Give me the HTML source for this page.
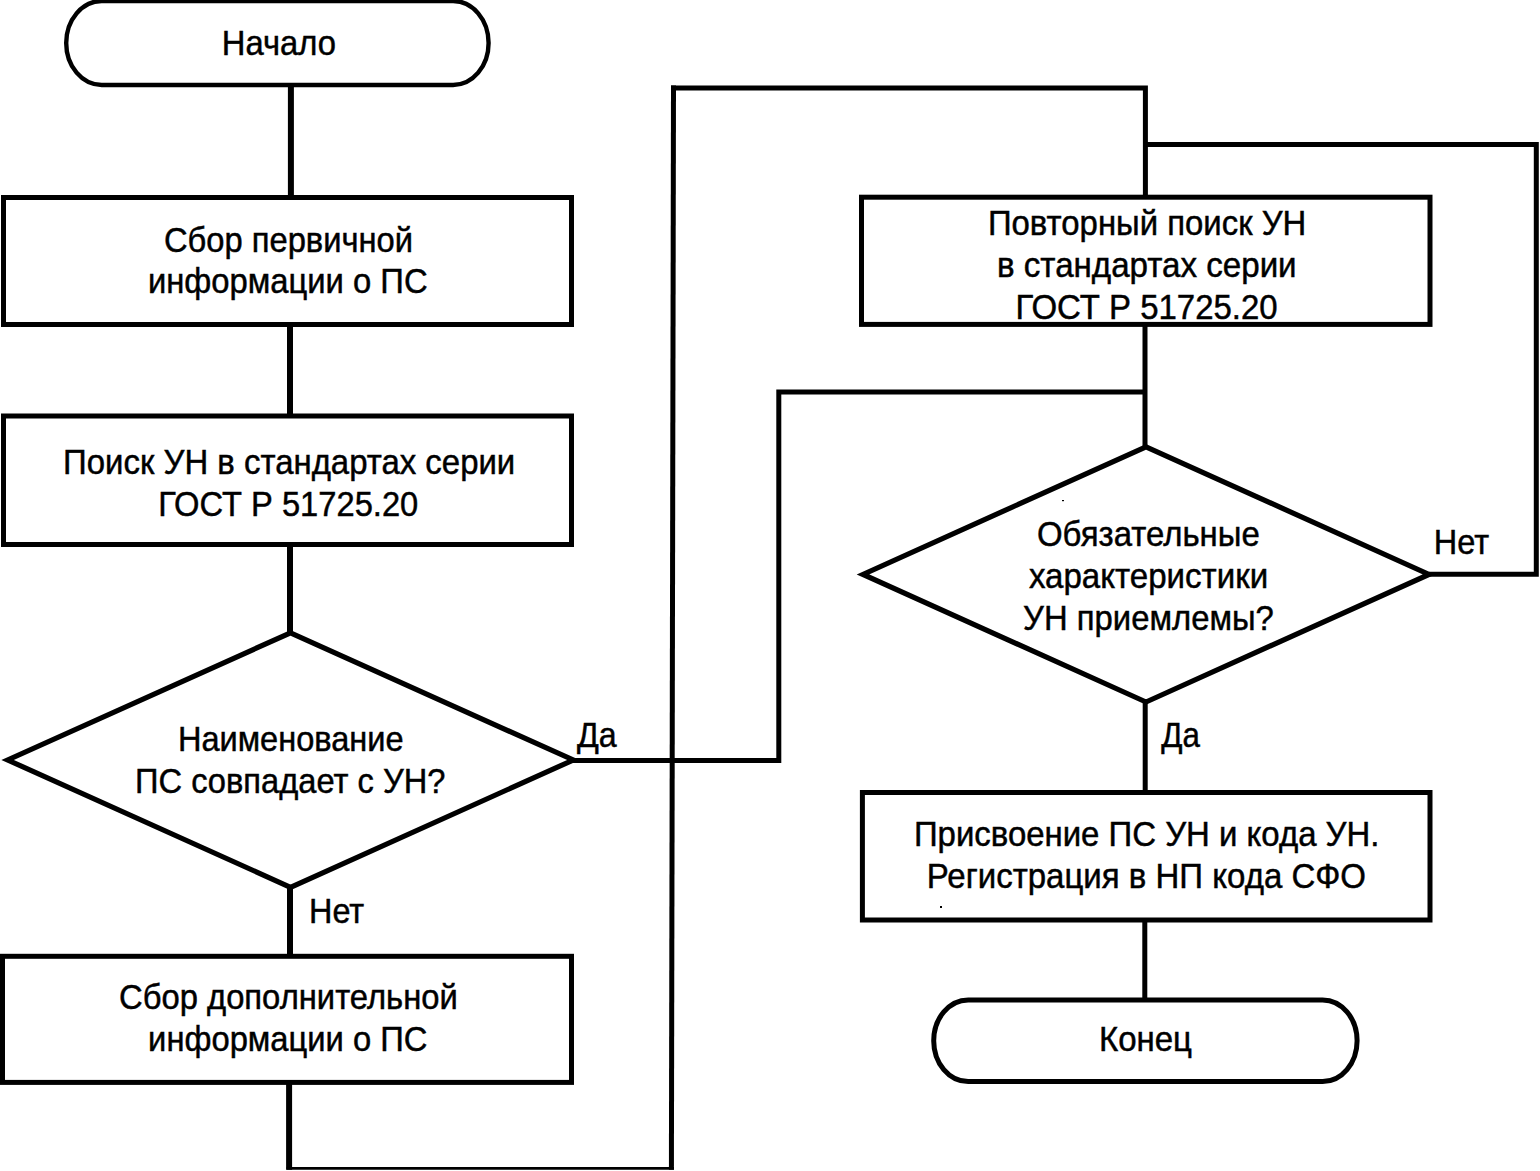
<!DOCTYPE html>
<html>
<head>
<meta charset="utf-8">
<title>Flowchart</title>
<style>
html,body{margin:0;padding:0;background:#fff;}
body{width:1540px;height:1171px;overflow:hidden;}
svg{display:block;}
text{font-family:"Liberation Sans",sans-serif;font-size:33px;fill:#000;stroke:#000;stroke-width:0.45px;}
.s{fill:none;stroke:#000;stroke-width:5;stroke-linejoin:miter;stroke-linecap:square;}
.b{stroke-linecap:butt;}
.d{fill:none;stroke:#000;stroke-width:5.2;stroke-linejoin:miter;stroke-miterlimit:20;}
</style>
</head>
<body>
<svg width="1540" height="1171" viewBox="0 0 1540 1171">
<rect class="s" style="stroke-width:4.4" x="66.2" y="1.0" width="422.4" height="84" rx="35.5" ry="42"/>
<rect class="s" x="933.7" y="999.9" width="423.4" height="81.7" rx="34.5" ry="40.85"/>
<rect class="s" x="3.5" y="197.5" width="568" height="127"/>
<rect class="s" x="3.5" y="416" width="568" height="128.5"/>
<rect class="s" x="2.5" y="956.3" width="569" height="126.1"/>
<rect class="s" x="861.5" y="197.2" width="568.5" height="127.2"/>
<rect class="s" x="862.4" y="792.5" width="567.6" height="127.5"/>
<polygon class="d" points="290.5,632.8 573.3,760 290.5,887.3 7.7,760"/>
<polygon class="d" points="1146,446.8 1429,574.4 1146,702 863,574.4"/>
<path class="s b" style="stroke-width:6" d="M290.9,85 V197.5 M290,324.5 V416 M290,544.5 V633 M290,887 V956.3 M289.1,1082.4 V1169.7"/>
<rect x="940" y="906" width="2" height="2"/><rect x="1062" y="500" width="2" height="1.2"/>
<path class="s b" style="stroke-width:2.8" d="M286.6,1168.3 H674"/>
<path class="s b" d="M671.4,1169.7 L673.5,85.5"/>
<path class="s b" d="M671,88 H1147.8 M1145.4,85.5 V197.2"/>
<path class="s b" d="M573,760.6 H781.3 M778.8,763.1 V389.6 M776.3,392.1 H1145.2"/>
<path class="s b" d="M1145,324.4 V447 M1145.2,702 V792.5 M1144.8,920 V999.9"/>
<path class="s b" d="M1429,574.3 H1538.6 M1536.3,576.8 V141.9 M1538.8,144.4 H1145.4"/>
<text transform="translate(221.81 54.80) scale(0.9929 1.040)">Начало</text>
<text transform="translate(163.91 251.50) scale(0.9916 1.040)">Сбор первичной</text>
<text transform="translate(147.91 293.00) scale(0.9939 1.040)">информации о ПС</text>
<text transform="translate(63.10 474.10) scale(0.9980 1.040)">Поиск УН в стандартах серии</text>
<text transform="translate(158.22 516.30) scale(0.9908 1.040)">ГОСТ Р 51725.20</text>
<text transform="translate(177.93 750.80) scale(0.9867 1.040)">Наименование</text>
<text transform="translate(135.02 792.80) scale(0.9897 1.040)">ПС совпадает с УН?</text>
<text transform="translate(577.00 747.00) scale(0.9756 1.040)">Да</text>
<text transform="translate(309.04 922.50) scale(0.9815 1.040)">Нет</text>
<text transform="translate(119.01 1009.00) scale(0.9938 1.040)">Сбор дополнительной</text>
<text transform="translate(148.12 1051.30) scale(0.9925 1.040)">информации о ПС</text>
<text transform="translate(987.91 234.90) scale(0.9971 1.040)">Повторный поиск УН</text>
<text transform="translate(996.99 276.70) scale(1.0037 1.040)">в стандартах серии</text>
<text transform="translate(1015.40 318.60) scale(0.9992 1.040)">ГОСТ Р 51725.20</text>
<text transform="translate(1037.00 546.20) scale(0.9982 1.040)">Обязательные</text>
<text transform="translate(1028.90 588.10) scale(1.0021 1.040)">характеристики</text>
<text transform="translate(1023.11 630.30) scale(0.9948 1.040)">УН приемлемы?</text>
<text transform="translate(1433.83 553.90) scale(0.9852 1.040)">Нет</text>
<text transform="translate(1161.30 746.70) scale(0.9488 1.040)">Да</text>
<text transform="translate(913.90 846.00) scale(0.9985 1.040)">Присвоение ПС УН и кода УН.</text>
<text transform="translate(926.80 887.80) scale(1.0000 1.040)">Регистрация в НП кода СФО</text>
<text transform="translate(1098.90 1050.90) scale(1.0011 1.040)">Конец</text>
</svg>
</body>
</html>
